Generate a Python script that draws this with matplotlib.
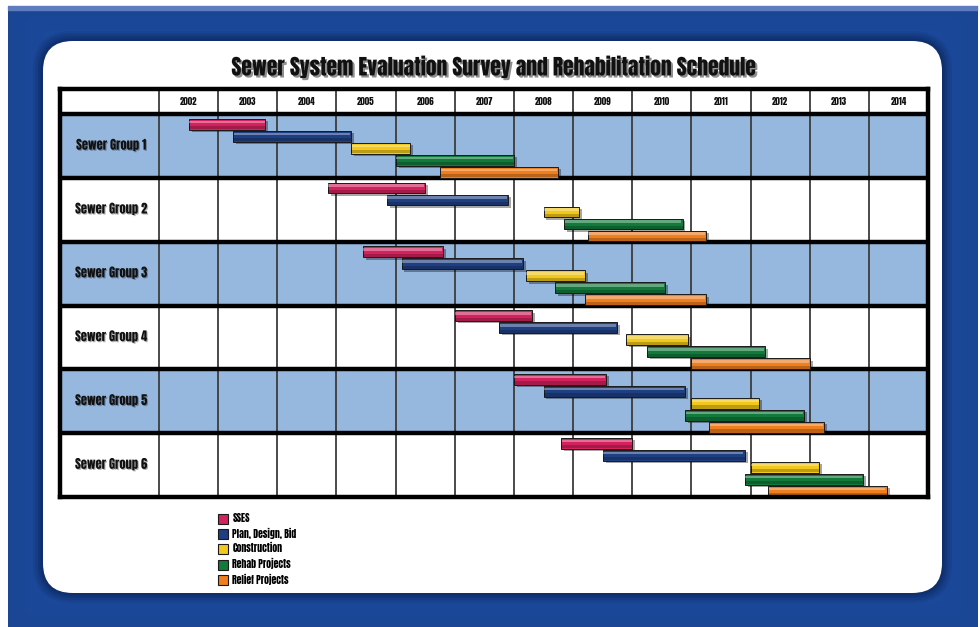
import numpy as np
import matplotlib
matplotlib.use('Agg')
import matplotlib.pyplot as plt
from matplotlib import font_manager
from matplotlib.patches import FancyBboxPatch, Rectangle, Patch
import matplotlib.patheffects as pe

# data
years = list(range(2002, 2015))
groups = ['Sewer Group 1', 'Sewer Group 2', 'Sewer Group 3',
          'Sewer Group 4', 'Sewer Group 5', 'Sewer Group 6']
phases = ['SSES', 'Plan, Design, Bid', 'Construction', 'Rehab Projects', 'Relief Projects']
colors = ['#d3225e', '#1f3f83', '#f2c81c', '#127a3b', '#ef7e1e']

sses_start = [2002.5, 2004.85, 2005.45, 2007.0, 2008.0, 2008.8]
sses_end = [2003.8, 2006.5, 2006.8, 2008.3, 2009.55, 2010.0]
plan_start = [2003.25, 2005.85, 2006.1, 2007.75, 2008.5, 2009.5]
plan_end = [2005.25, 2007.9, 2008.15, 2009.75, 2010.9, 2011.9]
cons_start = [2005.25, 2008.5, 2008.2, 2009.9, 2011.0, 2012.0]
cons_end = [2006.25, 2009.1, 2009.2, 2010.95, 2012.15, 2013.15]
rehab_start = [2006.0, 2008.85, 2008.7, 2010.25, 2010.9, 2011.9]
rehab_end = [2008.0, 2010.85, 2010.55, 2012.25, 2012.9, 2013.9]
relief_start = [2006.75, 2009.25, 2009.2, 2011.0, 2011.3, 2012.3]
relief_end = [2008.75, 2011.25, 2011.25, 2013.0, 2013.25, 2014.3]

starts = [sses_start, plan_start, cons_start, rehab_start, relief_start]
ends = [sses_end, plan_end, cons_end, rehab_end, relief_end]

# pick a heavy condensed font if there is one
installed = {f.name for f in font_manager.fontManager.ttflist}
def pick(cands):
    for name in cands:
        if name in installed:
            return name
    return 'DejaVu Sans'
title_font = pick(['Anton', 'Oswald', 'Fjalla One', 'Liberation Sans Narrow'])
label_font = pick(['Anton', 'Oswald', 'Fjalla One', 'Liberation Sans Narrow'])
narrow_ok = label_font != 'DejaVu Sans'

W, H = 980, 627
fig = plt.figure(figsize=(W / 100, H / 100), dpi=100)

# background decoration in pixel space
bg = fig.add_axes([0, 0, 1, 1])
bg.set_xlim(0, W)
bg.set_ylim(H, 0)
bg.axis('off')
xx = np.linspace(-1, 1, 200)
yy = np.linspace(-1, 1, 130)
gx, gy = np.meshgrid(xx, yy)
shade = 0.62 + 0.22 * (1 - np.maximum(np.abs(gx), np.abs(gy)))
blue = np.array([0.12, 0.32, 0.68])
img = np.clip(shade[..., None] * blue[None, None, :] / 0.72, 0, 1)
bg.imshow(img, extent=(8, 977, H, 6), aspect='auto', interpolation='bicubic', zorder=0)
bg.add_patch(Rectangle((8, 6), 969, 4, color='#5f7cbf', zorder=1))
for i, a in enumerate([0.10, 0.14, 0.18, 0.22]):
    g = 10 - 2.5 * i
    bg.add_patch(FancyBboxPatch((43 - g, 41 - g), 899 + 2 * g, 552 + 2 * g,
                                boxstyle='round,pad=0,rounding_size=%d' % (30 + g),
                                fc='#071a45', ec='none', alpha=a, zorder=2))
bg.add_patch(FancyBboxPatch((43, 41), 899, 552, boxstyle='round,pad=0,rounding_size=30',
                            fc='white', ec='none', zorder=3))

fig.text(493.5 / W, 1 - 67 / H, 'Sewer System Evaluation Survey and Rehabilitation Schedule',
         ha='center', va='center', fontsize=15.5 if narrow_ok else 12,
         fontweight='normal' if narrow_ok else 'bold', family=title_font, color='#111111',
         path_effects=[pe.withSimplePatchShadow(offset=(1.5, -1.5), alpha=0.45)])

# table axes
left_px, right_px, top_px, bot_px = 60, 928, 89, 497
col0, ncol = 159, len(years)
yr_px = (right_px - col0) / ncol
row_px = (bot_px - 114) / len(groups)
x0 = years[0] - (col0 - left_px) / yr_px
head = (114 - top_px) / row_px

ax = fig.add_axes([left_px / W, 1 - bot_px / H, (right_px - left_px) / W, (bot_px - top_px) / H])
ax.set_xlim(x0, years[-1] + 1)
ax.set_ylim(len(groups), -head)
ax.set_xticks([])
ax.set_yticks([])
for s in ax.spines.values():
    s.set_linewidth(3.2)
    s.set_color('black')
    s.set_zorder(10)

for i in range(0, len(groups), 2):
    ax.axhspan(i, i + 1, color='#96b8df', zorder=0, lw=0)
ax.vlines(np.arange(years[0], years[-1] + 1), -head, len(groups), color='#3c3c3c', lw=1.3, zorder=1)
ax.hlines(np.arange(0, len(groups)), x0, years[-1] + 1, color='black', lw=3.2, zorder=5)

small = 6.5 if narrow_ok else 5.5
for y in years:
    ax.text(y + 0.5, -head / 2, str(y), ha='center', va='center', fontsize=small,
            family=label_font, color='#111111')
for i, g in enumerate(groups):
    ax.text((x0 + years[0]) / 2 + 0.03, i + 0.48, g, ha='center', va='center',
            fontsize=9 if narrow_ok else 7, fontweight='normal' if narrow_ok else 'bold',
            family=label_font, color='#111111',
            path_effects=[pe.withSimplePatchShadow(offset=(0.8, -0.8), alpha=0.3)])

bh = 0.17
for k in range(len(phases)):
    ypos = np.arange(len(groups)) + 0.16 + 0.188 * k
    left = np.array(starts[k])
    width = np.array(ends[k]) - left
    ax.barh(ypos + 0.035, width, left=left + 0.05, height=bh, color='black', alpha=0.35, zorder=6, lw=0)
    ax.barh(ypos, width, left=left, height=bh, color=colors[k], edgecolor='#1a1a1a', lw=0.7, zorder=7)
    ax.barh(ypos - bh * 0.22, width * 0.985, left=left + width * 0.005, height=bh * 0.22,
            color='white', alpha=0.35, zorder=8, lw=0)
    ax.barh(ypos + bh * 0.32, width, left=left, height=bh * 0.3, color='black', alpha=0.22, zorder=8, lw=0)

handles = [Patch(facecolor=c, edgecolor='#1a1a1a', lw=0.8) for c in colors]
fig.legend(handles, phases, loc='upper left', bbox_to_anchor=(214 / W, 1 - 509 / H),
           frameon=False, handlelength=1.0, handleheight=1.2, labelspacing=0.4,
           handletextpad=0.5, borderaxespad=0,
           prop={'size': 7 if narrow_ok else 6, 'family': label_font})

fig.savefig('out.png', dpi=100)
